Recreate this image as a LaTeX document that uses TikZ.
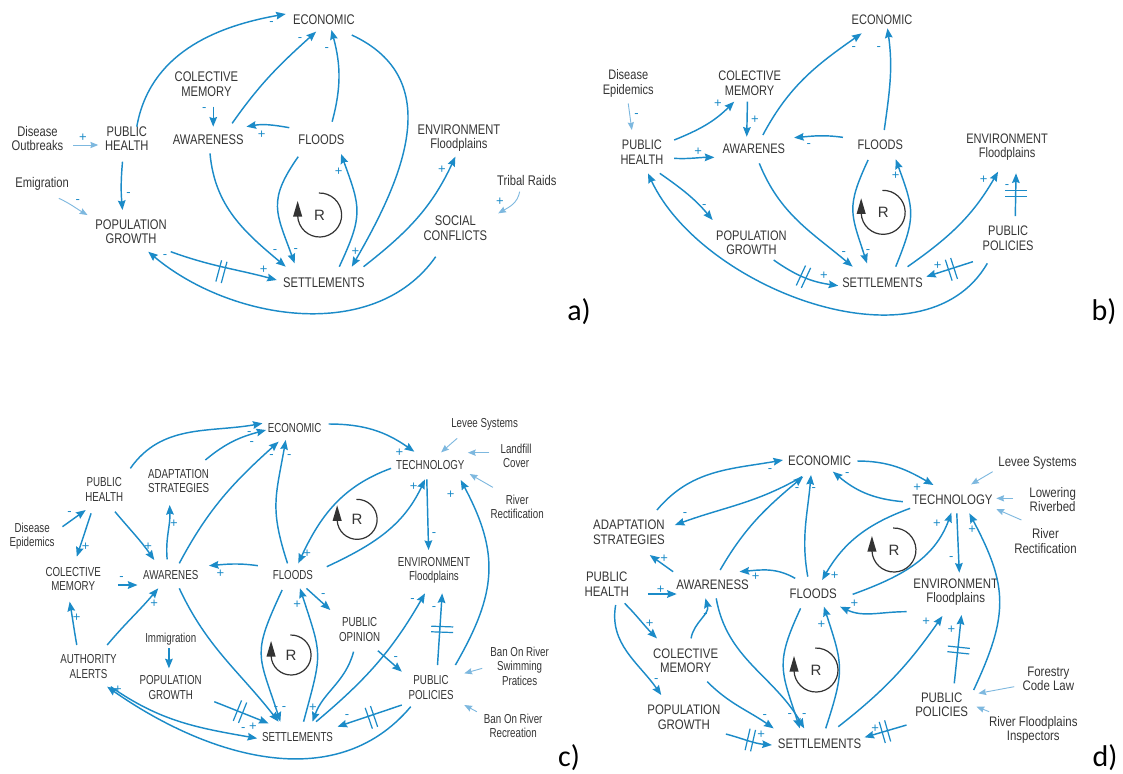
\documentclass[tikz,border=0pt]{standalone}
\usepackage{fontspec}
\setmainfont{Liberation Sans}
\newfontfamily\vfont[FakeStretch=0.8]{Liberation Sans}
\newfontfamily\vfontd[FakeStretch=0.83]{Liberation Sans}
\newfontfamily\vfontc[FakeStretch=0.75]{Liberation Sans}
\newfontfamily\tagfont{Carlito}
\usetikzlibrary{arrows.meta}
\definecolor{blu}{HTML}{1B8BC8}
\definecolor{lblu}{HTML}{7DB8DF}
\definecolor{txt}{HTML}{353535}
\definecolor{loopc}{HTML}{333333}

% delay mark: two short bars across a link at a point, #2 = link direction
\newcommand\DelayMark[2]{\draw[delay,shift={(#1)},rotate=#2] (-1.4pt,-5.5pt) -- (-1.4pt,5.5pt) (1.4pt,-5.5pt) -- (1.4pt,5.5pt);}
% reinforcing loop marker: name, centre, radius
\newcommand\LoopR[3]{%
  \coordinate (#1) at (#2);
  \draw[loopline] ([shift={(92:#3)}]#1) arc[start angle=92,end angle=-178,radius=#3];
  \fill[loopc] ([shift={(-#3,7pt)}]#1) -- ([shift={(-#3-2.3pt,-0.8pt)}]#1) -- ([shift={(-#3+2.3pt,-0.8pt)}]#1) -- cycle;
  \node[rlab] (#1-t) at (#1) {R};}

\tikzset{
  varbase/.style={inner sep=1pt,align=center,text=txt},
  lnk/.style={draw=blu,line width=0.72pt,-{Stealth[length=4.8pt,width=3.8pt,inset=0.6pt]}},
  ext/.style={draw=lblu,line width=0.45pt,-{Stealth[length=3.9pt,width=3.1pt,inset=0.5pt]}},
  pol/.style={text=blu,inner sep=0pt,font=\fontsize{6.5}{6.5}\selectfont},
  delay/.style={draw=blu,line width=0.6pt},
  loopline/.style={draw=loopc,line width=0.6pt},
  rlab/.style={text=txt,inner sep=0pt,font=\fontsize{7.5}{7.5}\selectfont},
  tag/.style={text=black,inner sep=0pt,font=\tagfont\fontsize{15}{15}\selectfont}
}

\begin{document}
\begin{tikzpicture}[x=0.5pt,y=-0.5pt]
\fill[white] (0,0) rectangle (1123,773);
\useasboundingbox (0,0) rectangle (1123,773);

% ---------------- panel a ----------------
\begin{scope}[x=0.178571pt,y=-0.166667pt,var/.style={varbase,font=\vfont\fontsize{7}{7.2}\selectfont}]
\node[var] (a-eco) at (907,60) {ECONOMIC};
\node[var] (a-cm) at (578,252) {COLECTIVE\\MEMORY};
\node[var] (a-aw) at (583,420) {AWARENESS};
\node[var] (a-fl) at (900,420) {FLOODS};
\node[var] (a-ph) at (355,415) {PUBLIC\\HEALTH};
\node[var] (a-dis) at (105,415) {Disease\\Outbreaks};
\node[var] (a-emi) at (118,553) {Emigration};
\node[var] (a-pg) at (367,695) {POPULATION\\GROWTH};
\node[var] (a-env) at (1285,415) {ENVIRONMENT\\Floodplains};
\node[var] (a-tri) at (1475,540) {Tribal Raids};
\node[var] (a-soc) at (1275,685) {SOCIAL\\CONFLICTS};
\node[var] (a-set) at (907,848) {SETTLEMENTS};

\draw[lnk] ([shift={(28,-35)}]a-ph.center) to[out=80,in=190] ([shift={(-107,-18)}]a-eco.center);
\draw[lnk] ([shift={(67,-50)}]a-aw.center) to[out=55,in=-138] ([shift={(-22,35)}]a-eco.center);
\draw[lnk] ([shift={(30,-55)}]a-fl.center) to[out=75,in=-75] ([shift={(21,30)}]a-eco.center);
\draw[lnk] ([shift={(78,45)}]a-eco.center) to[out=-25,in=60,looseness=1.15] ([shift={(78,-48)}]a-set.center);
\draw[lnk] ([shift={(19,68)}]a-cm.center) -- ([shift={(14,-40)}]a-aw.center);
\draw[lnk] ([shift={(-90,-37)}]a-fl.center) to[out=170,in=10] ([shift={(107,-40)}]a-aw.center);
\draw[ext] ([shift={(100,20)}]a-dis.center) -- ([shift={(-80,20)}]a-ph.center);
\draw[lnk] ([shift={(-12,70)}]a-ph.center) to[out=-95,in=95] ([shift={(-24,-65)}]a-pg.center);
\draw[ext] ([shift={(47,42)}]a-emi.center) to[out=-25,in=150] ([shift={(-122,-50)}]a-pg.center);
\draw[lnk] ([shift={(5,40)}]a-aw.center) to[out=-85,in=140] ([shift={(-107,-48)}]a-set.center);
\draw[lnk] ([shift={(-65,50)}]a-fl.center) to[out=-125,in=110,looseness=1.3] ([shift={(-82,-58)}]a-set.center);
\draw[lnk] ([shift={(43,-48)}]a-set.center) to[out=65,in=-70,looseness=1.3] ([shift={(55,42)}]a-fl.center);
\draw[lnk] ([shift={(111,-48)}]a-set.center) to[out=38,in=-115] ([shift={(-10,55)}]a-env.center);
\draw[ext] ([shift={(-20,35)}]a-tri.center) to[out=-100,in=30] ([shift={(120,-45)}]a-soc.center);
\draw[lnk] ([shift={(-55,85)}]a-soc.center) to[out=-125,in=-40,looseness=0.95] ([shift={(48,60)}]a-pg.center);
\draw[lnk] ([shift={(111,60)}]a-pg.center) to[out=-20,in=165] ([shift={(-132,-8)}]a-set.center);
\DelayMark{620,815}{-15}

\foreach \x/\y/\s [count=\i] in {760/70/-,840/118/-,915/150/-,995/755/+,572/330/-,733/405/+,232/412/+,360/583/-,218/605/-,770/755/-,828/750/-,948/515/+,1237/510/+,1400/605/+,462/768/-,738/810/+}
  \node[pol] (a-p\i) at (\x,\y) {\s};
\LoopR{a-R}{895,645}{11pt}
\end{scope}

% ---------------- panel b ----------------
\begin{scope}[shift={(560,0)},x=0.179533pt,y=-0.166667pt,var/.style={varbase,font=\vfont\fontsize{6.9}{7.2}\selectfont}]
\node[var] (b-eco) at (897,60) {ECONOMIC};
\node[var] (b-dis) at (190,250) {Disease\\Epidemics};
\node[var] (b-cm) at (528,250) {COLECTIVE\\MEMORY};
\node[var] (b-ph) at (228,457) {PUBLIC\\HEALTH};
\node[var] (b-aw) at (540,445) {AWARENES};
\node[var] (b-fl) at (892,435) {FLOODS};
\node[var] (b-env) at (1245,442) {ENVIRONMENT\\Floodplains};
\node[var] (b-pg) at (533,728) {POPULATION\\GROWTH};
\node[var] (b-pp) at (1248,715) {PUBLIC\\POLICIES};
\node[var] (b-set) at (898,848) {SETTLEMENTS};

\draw[ext] ([shift={(0,60)}]b-dis.center) -- ([shift={(-28,-67)}]b-ph.center);
\draw[lnk] ([shift={(90,-37)}]b-ph.center) to[out=22,in=-135] ([shift={(-43,55)}]b-cm.center);
\draw[lnk] ([shift={(-6,55)}]b-cm.center) -- ([shift={(-20,-35)}]b-aw.center);
\draw[lnk] ([shift={(90,18)}]b-ph.center) to[out=-3,in=180] ([shift={(-110,27)}]b-aw.center);
\draw[lnk] ([shift={(25,-40)}]b-aw.center) to[out=62,in=-145] ([shift={(-57,40)}]b-eco.center);
\draw[lnk] ([shift={(11,-45)}]b-fl.center) to[out=82,in=-82] ([shift={(15,25)}]b-eco.center);
\draw[lnk] ([shift={(-104,-23)}]b-fl.center) to[out=172,in=5] ([shift={(112,-32)}]b-aw.center);
\draw[lnk] ([shift={(50,63)}]b-ph.center) to[out=-35,in=130] ([shift={(-108,-68)}]b-pg.center);
\draw[lnk] ([shift={(15,45)}]b-aw.center) to[out=-68,in=140] ([shift={(-83,-48)}]b-set.center);
\draw[lnk] ([shift={(-34,45)}]b-fl.center) to[out=-115,in=108,looseness=1.3] ([shift={(-43,-58)}]b-set.center);
\draw[lnk] ([shift={(37,-48)}]b-set.center) to[out=68,in=-70,looseness=1.3] ([shift={(43,43)}]b-fl.center);
\draw[lnk] ([shift={(70,-48)}]b-set.center) to[out=35,in=-120] ([shift={(-25,73)}]b-env.center);
\draw[lnk] ([shift={(20,-67)}]b-pp.center) -- ([shift={(25,78)}]b-env.center);
\draw[lnk] ([shift={(-98,70)}]b-pp.center) -- ([shift={(122,-18)}]b-set.center);
\draw[lnk] ([shift={(-58,75)}]b-pp.center) to[out=-120,in=-65,looseness=0.93] ([shift={(17,63)}]b-ph.center);
\draw[lnk] ([shift={(62,52)}]b-pg.center) to[out=-35,in=172] ([shift={(-123,9)}]b-set.center);
\DelayMark{1270,580}{90}
\DelayMark{1090,808}{198}
\DelayMark{678,830}{-25}

\foreach \x/\y/\s [count=\i] in {213/348/-,440/312/+,543/358/+,385/455/+,818/145/-,888/145/-,693/438/-,402/620/-,790/760/-,858/755/-,935/527/+,1180/540/+,1245/560/-,1052/798/+,735/828/+}
  \node[pol] (b-p\i) at (\x,\y) {\s};
\LoopR{b-R}{900,637}{11pt}
\end{scope}

% ---------------- panel c ----------------
\begin{scope}[shift={(0,400)},x=0.178571pt,y=-0.166667pt,var/.style={varbase,font=\vfontc\fontsize{6.5}{7.2}\selectfont}]
\node[var] (c-eco) at (825,85) {ECONOMIC};
\node[var] (c-lev) at (1357,72) {Levee Systems};
\node[var] (c-lan) at (1445,168) {Landfill\\Cover};
\node[var] (c-tec) at (1205,195) {TECHNOLOGY};
\node[var] (c-riv) at (1448,320) {River\\Rectification};
\node[var] (c-ph) at (292,268) {PUBLIC\\HEALTH};
\node[var] (c-ad) at (500,243) {ADAPTATION\\STRATEGIES};
\node[var] (c-dis) at (90,408) {Disease\\Epidemics};
\node[var] (c-cm) at (205,537) {COLECTIVE\\MEMORY};
\node[var] (c-aw) at (478,525) {AWARENES};
\node[var] (c-fl) at (820,525) {FLOODS};
\node[var] (c-env) at (1215,510) {ENVIRONMENT\\Floodplains};
\node[var] (c-po) at (1007,688) {PUBLIC\\OPINION};
\node[var] (c-imm) at (478,718) {Immigration};
\node[var] (c-au) at (248,800) {AUTHORITY\\ALERTS};
\node[var] (c-pg) at (478,862) {POPULATION\\GROWTH};
\node[var] (c-pp) at (1207,862) {PUBLIC\\POLICIES};
\node[var] (c-bsw) at (1455,798) {Ban On River\\Swimming\\Pratices};
\node[var] (c-brec) at (1437,978) {Ban On River\\Recreation};
\node[var] (c-set) at (833,1010) {SETTLEMENTS};

\draw[lnk] ([shift={(73,-63)}]c-ph.center) to[out=55,in=190] ([shift={(-90,-15)}]c-eco.center);
\draw[lnk] ([shift={(75,-63)}]c-ad.center) to[out=40,in=-165] ([shift={(-80,5)}]c-eco.center);
\draw[lnk] ([shift={(24,-35)}]c-aw.center) to[out=62,in=-138] ([shift={(-45,40)}]c-eco.center);
\draw[lnk] ([shift={(-15,-35)}]c-fl.center) to[out=108,in=-100,looseness=1.2] ([shift={(-25,35)}]c-eco.center);
\draw[lnk] ([shift={(95,-13)}]c-eco.center) to[out=0,in=145] ([shift={(-45,-40)}]c-tec.center);
\draw[ext] ([shift={(-77,43)}]c-lev.center) -- ([shift={(30,-38)}]c-tec.center);
\draw[ext] ([shift={(-75,-10)}]c-lan.center) -- ([shift={(105,-37)}]c-tec.center);
\draw[ext] ([shift={(-68,-58)}]c-riv.center) -- ([shift={(110,27)}]c-tec.center);
\draw[lnk] ([shift={(-110,10)}]c-tec.center) to[out=200,in=65] ([shift={(15,-35)}]c-fl.center);
\draw[lnk] ([shift={(95,-25)}]c-fl.center) to[out=25,in=-115] ([shift={(-15,43)}]c-tec.center);
\draw[lnk] ([shift={(-10,43)}]c-tec.center) -- ([shift={(-15,-60)}]c-env.center);
\draw[lnk] ([shift={(68,-67)}]c-pp.center) to[out=60,in=-62,looseness=1.15] ([shift={(85,45)}]c-tec.center);
\draw[lnk] ([shift={(85,-28)}]c-dis.center) -- ([shift={(-52,62)}]c-ph.center);
\draw[lnk] ([shift={(-37,72)}]c-ph.center) -- ([shift={(10,-67)}]c-cm.center);
\draw[lnk] ([shift={(30,67)}]c-ph.center) to[out=-50,in=125] ([shift={(-46,-45)}]c-aw.center);
\draw[lnk] ([shift={(-10,-47)}]c-aw.center) to[out=95,in=-88] ([shift={(-25,72)}]c-ad.center);
\draw[lnk] ([shift={(125,18)}]c-cm.center) -- ([shift={(-93,30)}]c-aw.center);
\draw[lnk] ([shift={(-98,-28)}]c-fl.center) to[out=172,in=5] ([shift={(107,-28)}]c-aw.center);
\draw[lnk] ([shift={(-33,-65)}]c-au.center) to[out=100,in=-80] ([shift={(-10,68)}]c-cm.center);
\draw[lnk] ([shift={(52,-65)}]c-au.center) to[out=50,in=-130] ([shift={(-35,40)}]c-aw.center);
\draw[lnk] ([shift={(-5,27)}]c-imm.center) -- ([shift={(-5,-57)}]c-pg.center);
\draw[lnk] ([shift={(24,40)}]c-aw.center) to[out=-65,in=128] ([shift={(-53,-45)}]c-set.center);
\draw[lnk] ([shift={(-30,45)}]c-fl.center) to[out=-115,in=108,looseness=1.4] ([shift={(-48,-45)}]c-set.center);
\draw[lnk] ([shift={(17,-45)}]c-set.center) to[out=75,in=-72,looseness=1.4] ([shift={(20,40)}]c-fl.center);
\draw[lnk] ([shift={(38,40)}]c-fl.center) -- ([shift={(-82,-58)}]c-po.center);
\draw[lnk] ([shift={(-17,67)}]c-po.center) to[out=-105,in=70] ([shift={(42,-45)}]c-set.center);
\draw[lnk] ([shift={(51,64)}]c-po.center) -- ([shift={(-82,-47)}]c-pp.center);
\draw[lnk] ([shift={(52,-45)}]c-set.center) to[out=40,in=-120] ([shift={(-25,70)}]c-env.center);
\draw[lnk] ([shift={(18,-67)}]c-pp.center) -- ([shift={(23,70)}]c-env.center);
\draw[lnk] ([shift={(-82,53)}]c-pp.center) -- ([shift={(112,-30)}]c-set.center);
\draw[lnk] ([shift={(122,43)}]c-pg.center) -- ([shift={(-81,-40)}]c-set.center);
\draw[lnk] ([shift={(62,60)}]c-au.center) to[out=-35,in=170] ([shift={(-113,5)}]c-set.center);
\draw[lnk] ([shift={(-57,58)}]c-pp.center) to[out=-130,in=-35] ([shift={(52,60)}]c-au.center);
\draw[ext] ([shift={(-105,7)}]c-bsw.center) -- ([shift={(93,-42)}]c-pp.center);
\draw[ext] ([shift={(-102,-43)}]c-brec.center) -- ([shift={(93,53)}]c-pp.center);
\DelayMark{1238,688}{88}
\DelayMark{1040,952}{199}
\DelayMark{672,935}{-22}

\foreach \x/\y/\s [count=\i] in {698/100/-,705/130/-,760/170/-,810/170/-,1118/158/+,860/460/+,1158/260/+,1215/402/-,1262/285/+,195/340/-,240/440/+,415/440/+,487/370/+,340/535/-,617/522/+,215/652/+,432/610/+,773/924/-,795/924/-,832/615/+,905/585/-,876/924/+,1108/775/-,1155/600/-,1215/625/-,972/950/-,708/980/+,681/987/-,330/870/+}
  \node[pol] (c-p\i) at (\x,\y) {\s};
\LoopR{c-R1}{1000,358}{10pt}
\LoopR{c-R2}{815,765}{10pt}
\end{scope}

% ---------------- panel d ----------------
\begin{scope}[shift={(560,430)},x=0.179533pt,y=-0.166667pt,var/.style={varbase,font=\vfontd\fontsize{6.9}{7.2}\selectfont}]
\node[var] (d-eco) at (723,93) {ECONOMIC};
\node[var] (d-lev) at (1330,98) {Levee Systems};
\node[var] (d-tec) at (1093,208) {TECHNOLOGY};
\node[var] (d-low) at (1372,208) {Lowering\\Riverbed};
\node[var] (d-riv) at (1352,333) {River\\Rectification};
\node[var] (d-ad) at (192,307) {ADAPTATION\\STRATEGIES};
\node[var] (d-ph) at (130,463) {PUBLIC\\HEALTH};
\node[var] (d-aw) at (425,465) {AWARENESS};
\node[var] (d-fl) at (705,492) {FLOODS};
\node[var] (d-env) at (1102,487) {ENVIRONMENT\\Floodplains};
\node[var] (d-cm) at (350,693) {COLECTIVE\\MEMORY};
\node[var] (d-pg) at (345,862) {POPULATION\\GROWTH};
\node[var] (d-pp) at (1063,825) {PUBLIC\\POLICIES};
\node[var] (d-for) at (1360,747) {Forestry\\Code Law};
\node[var] (d-rfi) at (1318,900) {River Floodplains\\Inspectors};
\node[var] (d-set) at (723,942) {SETTLEMENTS};

\draw[lnk] ([shift={(78,-67)}]d-ad.center) to[out=50,in=190] ([shift={(-102,-3)}]d-eco.center);
\draw[lnk] ([shift={(-49,47)}]d-eco.center) to[out=210,in=20] ([shift={(128,-22)}]d-ad.center);
\draw[lnk] ([shift={(21,-45)}]d-aw.center) to[out=60,in=-140] ([shift={(-46,47)}]d-eco.center);
\draw[lnk] ([shift={(-15,-52)}]d-fl.center) to[out=100,in=-95] ([shift={(-24,42)}]d-eco.center);
\draw[lnk] ([shift={(-138,7)}]d-tec.center) to[out=175,in=-40] ([shift={(37,32)}]d-eco.center);
\draw[lnk] ([shift={(105,0)}]d-eco.center) to[out=0,in=150] ([shift={(-53,-43)}]d-tec.center);
\draw[ext] ([shift={(-125,27)}]d-lev.center) -- ([shift={(52,-45)}]d-tec.center);
\draw[ext] ([shift={(-110,-3)}]d-low.center) -- ([shift={(122,-3)}]d-tec.center);
\draw[ext] ([shift={(-67,-63)}]d-riv.center) -- ([shift={(122,29)}]d-tec.center);
\draw[lnk] ([shift={(-118,27)}]d-tec.center) to[out=200,in=60] ([shift={(25,-42)}]d-fl.center);
\draw[lnk] ([shift={(110,1)}]d-fl.center) to[out=20,in=-110] ([shift={(-3,40)}]d-tec.center);
\draw[lnk] ([shift={(12,42)}]d-tec.center) -- ([shift={(10,-59)}]d-env.center);
\draw[lnk] ([shift={(89,-45)}]d-pp.center) to[out=65,in=-62,looseness=1.2] ([shift={(47,42)}]d-tec.center);
\draw[lnk] ([shift={(-110,-40)}]d-aw.center) -- ([shift={(58,68)}]d-ad.center);
\draw[lnk] ([shift={(115,29)}]d-ph.center) -- ([shift={(-100,27)}]d-aw.center);
\draw[lnk] ([shift={(-50,-47)}]d-fl.center) to[out=150,in=5] ([shift={(75,-40)}]d-aw.center);
\draw[lnk] ([shift={(-137,58)}]d-env.center) to[out=180,in=-25] ([shift={(75,38)}]d-fl.center);
\draw[lnk] ([shift={(15,-68)}]d-cm.center) to[out=80,in=-75] ([shift={(-20,40)}]d-aw.center);
\draw[lnk] ([shift={(50,57)}]d-ph.center) to[out=-45,in=135] ([shift={(-80,-68)}]d-cm.center);
\draw[lnk] ([shift={(25,62)}]d-ph.center) to[out=-100,in=125] ([shift={(-63,-67)}]d-pg.center);
\draw[lnk] ([shift={(10,40)}]d-aw.center) to[out=-80,in=120] ([shift={(-43,-47)}]d-set.center);
\draw[lnk] ([shift={(60,62)}]d-cm.center) to[out=-45,in=145] ([shift={(-128,-47)}]d-set.center);
\draw[lnk] ([shift={(-35,43)}]d-fl.center) to[out=-115,in=108,looseness=1.3] ([shift={(-55,-47)}]d-set.center);
\draw[lnk] ([shift={(17,-47)}]d-set.center) to[out=72,in=-72,looseness=1.3] ([shift={(30,38)}]d-fl.center);
\draw[lnk] ([shift={(52,-52)}]d-set.center) to[out=38,in=-125] ([shift={(-37,71)}]d-env.center);
\draw[lnk] ([shift={(35,-65)}]d-pp.center) -- ([shift={(16,68)}]d-env.center);
\draw[lnk] ([shift={(-98,60)}]d-pp.center) -- ([shift={(125,-20)}]d-set.center);
\draw[lnk] ([shift={(117,50)}]d-pg.center) to[out=-15,in=175] ([shift={(-133,3)}]d-set.center);
\draw[ext] ([shift={(-95,23)}]d-for.center) -- ([shift={(102,-35)}]d-pp.center);
\draw[ext] ([shift={(-123,-55)}]d-rfi.center) -- ([shift={(97,5)}]d-pp.center);
\DelayMark{1110,660}{84}
\DelayMark{905,905}{196}
\DelayMark{530,930}{-13}

\foreach \x/\y/\s [count=\i] in {585/122/-,348/255/-,660/180/-,707/180/-,800/135/-,995/172/+,765/437/+,1050/280/+,1090/385/-,1148/300/+,290/385/+,280/480/+,545/440/+,820/520/+,405/555/-,250/580/+,268/750/-,640/855/-,680/855/-,570/858/-,728/585/+,1020/575/+,1090/600/+,878/895/+,560/915/+}
  \node[pol] (d-p\i) at (\x,\y) {\s};
\LoopR{d-R1}{930,360}{11pt}
\LoopR{d-R2}{713,720}{11pt}
\end{scope}

% panel tags
\node[tag] (tag-a) at (579,312) {a)};
\node[tag] (tag-b) at (1104,312) {b)};
\node[tag] (tag-c) at (569,758) {c)};
\node[tag] (tag-d) at (1105,758) {d)};
\end{tikzpicture}
\end{document}
